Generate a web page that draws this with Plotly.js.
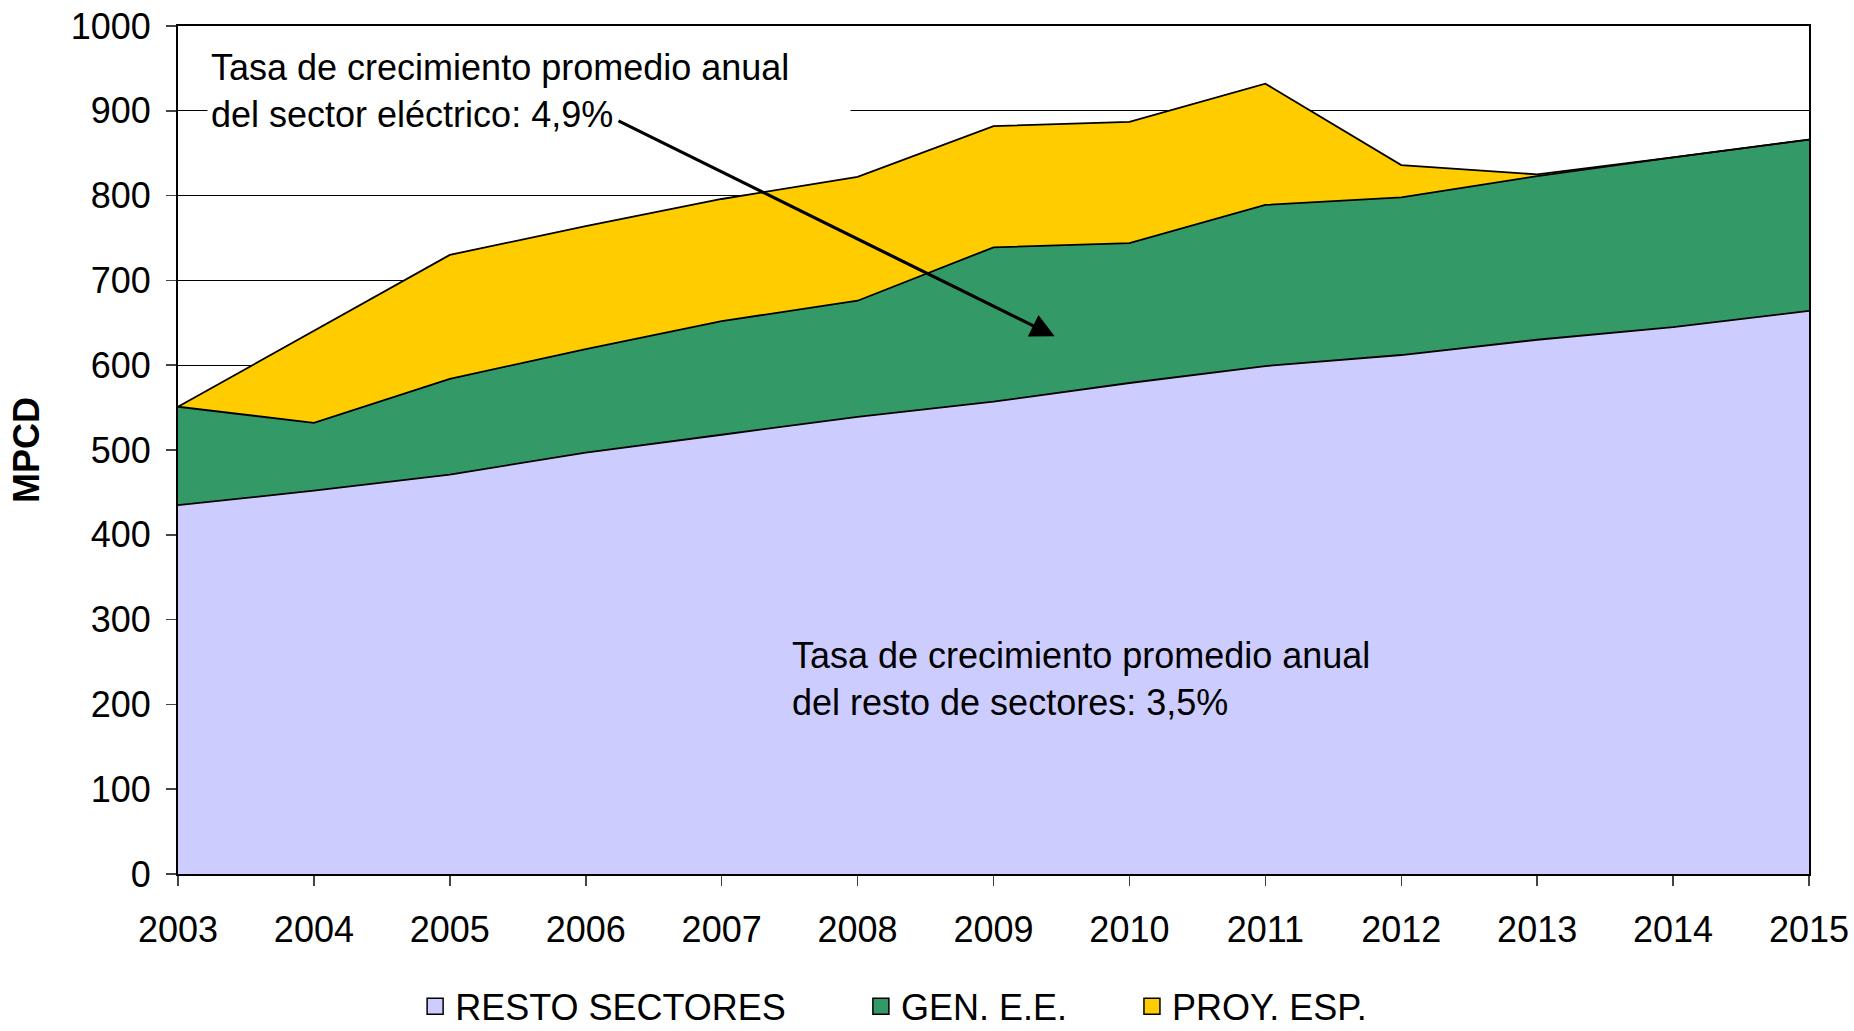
<!DOCTYPE html>
<html>
<head>
<meta charset="utf-8">
<script src="https://cdn.plot.ly/plotly-3.0.1.min.js"></script>
<style>html,body{margin:0;padding:0;background:#fff;}#chart{width:1854px;height:1031px;}</style>
</head>
<body>
<div id="chart"></div>
<script>
// ---- data ----
const years = [2003, 2004, 2005, 2006, 2007, 2008, 2009, 2010, 2011, 2012, 2013, 2014, 2015];
const restoSectores = [435, 452, 471, 497, 518, 539, 557, 579, 599, 612, 630, 645, 664];
const genEE = [116, 80, 113, 122, 134, 137, 182, 165, 190, 186, 193, 200, 202];
const proyEsp = [0, 109, 146, 145, 144, 146, 143, 143, 143, 38, 2, 0, 0];
const seriesNames = ["RESTO SECTORES", "GEN. E.E.", "PROY. ESP."];
const yTicks = [0, 100, 200, 300, 400, 500, 600, 700, 800, 900, 1000];
const note1 = "Tasa de crecimiento promedio anual<br>del sector eléctrico: 4,9%";
const note2 = "Tasa de crecimiento promedio anual<br>del resto de sectores: 3,5%";

const colors = ["#CCCCFF", "#339966", "#FFCC00"];
const FONT = "Liberation Sans, Arial, sans-serif";
const legendPad = [7, 6, 0]; // trailing spacing after legend labels (layout only)

const values = [restoSectores, genEE, proyEsp];
const traces = [];
values.forEach((v, i) => {
  traces.push({
    type: "scatter", mode: "lines", x: years, y: v,
    stackgroup: "one", fillcolor: colors[i],
    line: {color: "#000", width: 1.8},
    showlegend: false, hoverinfo: "skip"
  });
});
seriesNames.forEach((n, i) => {
  traces.push({
    type: "scatter", mode: "markers", x: [null], y: [null],
    name: n + "\u00a0".repeat(legendPad[i]),
    marker: {symbol: "square", size: 16, color: colors[i], line: {color: "#000", width: 1.5}},
    showlegend: true
  });
});

const layout = {
  width: 1854, height: 1031,
  margin: {l: 178, r: 45, t: 26, b: 157, autoexpand: false},
  paper_bgcolor: "#fff", plot_bgcolor: "#fff",
  font: {family: FONT, size: 36, color: "#000"},
  hovermode: false,
  showlegend: true,
  legend: {
    orientation: "h", xref: "container", yref: "container",
    x: 0.482, xanchor: "center", y: 0.024, yanchor: "middle",
    font: {family: FONT, size: 36, color: "#000"}, traceorder: "normal",
    itemwidth: 30, bgcolor: "rgba(0,0,0,0)"
  },
  xaxis: {
    range: [2003, 2015], tickmode: "array", tickvals: years, ticktext: years.map(String),
    ticks: "outside", ticklen: 10, tickwidth: 1.5, tickcolor: "#444",
    ticklabelstandoff: 13,
    showline: true, linecolor: "#000", linewidth: 2, mirror: true,
    showgrid: false, zeroline: false, automargin: false,
    tickfont: {family: FONT, size: 36, color: "#000"}
  },
  yaxis: {
    range: [0, 1000], tickmode: "array", tickvals: yTicks,
    ticks: "outside", ticklen: 10, tickwidth: 1.5, tickcolor: "#444",
    ticklabelstandoff: 8,
    showline: true, linecolor: "#000", linewidth: 2, mirror: true,
    showgrid: true, gridcolor: "#000", gridwidth: 1, zeroline: false, automargin: false,
    tickfont: {family: FONT, size: 36, color: "#000"},
    title: {text: "<b>MPCD</b>", font: {family: FONT, size: 36, color: "#000"}, standoff: 20}
  },
  annotations: [
    {
      xref: "paper", yref: "paper", x: 0.0175, y: 0.923, xanchor: "left", yanchor: "middle",
      text: note1, showarrow: false, align: "left", width: 636, bgcolor: "#fff", borderpad: 3,
      font: {family: FONT, size: 36, color: "#000"}
    },
    {
      xref: "paper", yref: "paper", x: 0.375, y: 0.230, xanchor: "left", yanchor: "middle",
      text: note2, showarrow: false, align: "left",
      font: {family: FONT, size: 36, color: "#000"}
    },
    {
      xref: "x", yref: "y", axref: "x", ayref: "y",
      x: 2009.45, y: 634, ax: 2006.23, ay: 889, text: "",
      showarrow: true, arrowhead: 2, arrowsize: 1.5, arrowwidth: 3.2, arrowcolor: "#000", standoff: 0
    }
  ]
};

Plotly.newPlot("chart", traces, layout, {staticPlot: true, displayModeBar: false});
</script>
</body>
</html>
